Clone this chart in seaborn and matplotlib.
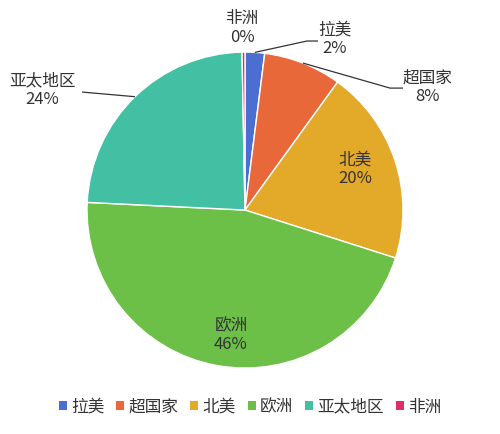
import numpy as np
import matplotlib
matplotlib.use("Agg")
import matplotlib.pyplot as plt
from matplotlib.patches import Patch
import seaborn as sns

sns.set_theme(style="white")
plt.rcParams["font.family"] = ["Noto Sans CJK SC", "DejaVu Sans"]

# Regional shares (%), clockwise from 12 o'clock
regions = ["拉美", "超国家", "北美", "欧洲", "亚太地区", "非洲"]
shares = [2.0, 8.0, 20.0, 46.0, 24.0, 0.3]
colors = ["#4A6FD0", "#E8683A", "#E3A928", "#6CBF47", "#43BFA3", "#DD2F65"]

text_color = "#333333"

fig = plt.figure(figsize=(5.0, 4.34), dpi=100)
ax = fig.add_axes([0.174, 0.152, 0.632, 0.728])

wedges, _ = ax.pie(
    shares,
    colors=colors,
    startangle=90,
    counterclock=False,
    radius=1.0,
    wedgeprops=dict(edgecolor="white", linewidth=1.0),
)
ax.set_xlim(-1, 1)
ax.set_ylim(-1, 1)
ax.set_aspect("equal")
ax.axis("off")

total = sum(shares)
pct = [100.0 * v / total for v in shares]
labels = {r: f"{r}\n{p:.0f}%" for r, p in zip(regions, pct)}

# label text positions (axes data units) and optional leader elbows
layout = {
    "非洲": dict(xy=(-0.019, 1.152), line=None),
    "拉美": dict(xy=(0.57, 1.082), line=[(0.392, 1.070), (0.462, 1.070)]),
    "超国家": dict(xy=(1.158, 0.778), line=[(0.918, 0.772), (1.0, 0.772)]),
    "北美": dict(xy=(0.696, 0.259), line=None),
    "欧洲": dict(xy=(-0.089, -0.791), line=None),
    "亚太地区": dict(xy=(-1.285, 0.759), line=[(-1.032, 0.747)]),
}

for w, r in zip(wedges, regions):
    spec = layout[r]
    ax.text(*spec["xy"], labels[r], ha="center", va="center",
            fontsize=12, color=text_color, linespacing=1.15,
            clip_on=False)
    if spec["line"] is not None:
        mid = np.deg2rad((w.theta1 + w.theta2) / 2.0)
        start = (np.cos(mid), np.sin(mid))
        pts = [start] + spec["line"]
        xs, ys = zip(*pts)
        ax.plot(xs, ys, color="#333333", lw=0.9, clip_on=False,
                solid_capstyle="butt")

handles = [Patch(facecolor=c, edgecolor="none") for c in colors]
fig.legend(
    handles, regions, loc="center", bbox_to_anchor=(0.50, 0.062), ncol=6,
    frameon=False, handlelength=0.5, handleheight=0.5, handletextpad=0.25,
    columnspacing=0.7, fontsize=12, labelcolor=text_color,
)

fig.savefig("out.png", dpi=100, facecolor="white")
